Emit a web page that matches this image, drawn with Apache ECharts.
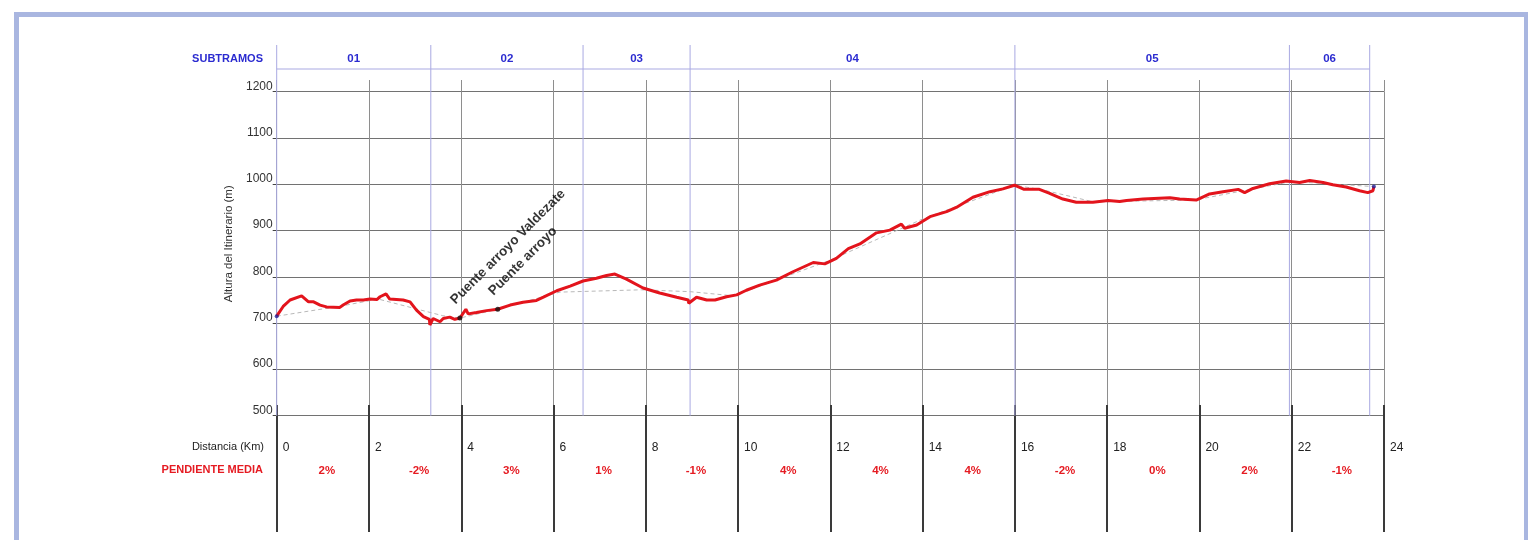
<!DOCTYPE html>
<html>
<head>
<meta charset="utf-8">
<script src="https://cdn.jsdelivr.net/npm/echarts@6/dist/echarts.min.js"></script>
<style>
  html, body { margin: 0; padding: 0; background: #ffffff; }
  #chart { width: 1528px; height: 540px; }
</style>
</head>
<body>
<div id="chart"></div>
<script>
// Longitudinal profile of the route: distance (km) vs. altitude (m)
const FONT = '"Liberation Sans", Arial, Helvetica, sans-serif';

const profileKm = [
  0, 0.14, 0.29, 0.54, 0.69, 0.8, 0.94, 1.08, 1.37, 1.44, 1.59, 1.73, 1.88, 2.02, 2.17, 2.24, 2.37, 2.45,
  2.74, 2.89, 3.03, 3.18, 3.31, 3.32, 3.39, 3.54, 3.61, 3.75, 3.86, 3.97, 4.1, 4.15, 4.33, 4.55, 4.79,
  5.06, 5.34, 5.63, 5.78, 6.07, 6.36, 6.64, 6.93, 7.15, 7.33, 7.58, 7.94, 8.3, 8.67, 8.92, 8.93, 9.1,
  9.32, 9.5, 9.75, 9.97, 10.18, 10.47, 10.83, 11.19, 11.63, 11.88, 12.13, 12.39, 12.64, 13.0, 13.29,
  13.54, 13.61, 13.87, 14.16, 14.52, 14.73, 15.09, 15.46, 15.74, 15.99, 16.2, 16.53, 16.74, 17.04,
  17.33, 17.69, 18.02, 18.27, 18.42, 18.78, 19.36, 19.57, 19.93, 20.22, 20.51, 20.84, 20.98, 21.16,
  21.52, 21.88, 22.17, 22.39, 22.68, 22.89, 23.18, 23.47, 23.65, 23.76, 23.78
];
const profileElev = [
  715, 736, 750, 759, 746, 746, 739, 735, 734, 739, 748, 750, 750, 752, 751, 757, 763, 752,
  750, 746, 728, 714, 708, 696, 710, 703, 710, 713, 708, 711, 730, 720, 723, 727, 730,
  739, 745, 749, 756, 770, 780, 791, 797, 803, 806, 795, 776, 765, 756, 750, 743, 756,
  750, 750, 757, 761, 771, 782, 793, 811, 831, 828, 840, 861, 871, 895, 901,
  914, 905, 912, 930, 941, 950, 972, 984, 990, 998, 989, 989, 981, 968,
  961, 961, 965, 963, 965, 968, 971, 968, 966, 979, 984, 989, 982, 991,
  1001, 1007, 1004, 1008, 1004, 999, 994, 986, 982, 986, 995
];

// Smoothed grade line
const gradeKm   = [0, 1.4, 2.2, 3.6, 3.97, 4.79, 6.14, 7.9, 8.96, 9.9, 12.0, 14.0, 15.99, 16.6, 17.7, 19.9, 22.0, 23.78];
const gradeElev = [715, 737, 752, 716, 711, 730, 767, 772, 768, 759, 836, 925, 998, 988, 962, 966, 1006, 995];

const bridgeNames = ['Puente arroyo Valdezate', 'Puente arroyo'];
const bridgeKm    = [3.97, 4.79];
const bridgeElev  = [711, 730];

const subtramoNames  = ['01', '02', '03', '04', '05', '06'];
const subtramoBounds = [0, 3.34, 6.64, 8.96, 16, 21.95, 23.69];

const slopeLabels = ['2%', '-2%', '3%', '1%', '-1%', '4%', '4%', '4%', '-2%', '0%', '2%', '-1%'];

const distMin = 0, distMax = 24, distStep = 2;
const elevMin = 500, elevMax = 1200, elevStep = 100;

const zip = (a, b) => a.map((v, i) => [v, b[i]]);

const PLOT_LEFT = 276.7, PLOT_WIDTH = 1107.3, PLOT_TOP = 91.7, PLOT_HEIGHT = 324;
const BLUE = '#2b2bd0', RED = '#e51b22', LAV = '#a9a9e2';

const hiddenY = (grid) => ({ type: 'value', gridIndex: grid, min: 0, max: 1, show: false });
const distAxis = (grid, split, extra) => Object.assign({
  type: 'value', gridIndex: grid, min: distMin, max: distMax, interval: distStep,
  axisLine: { show: false }, axisTick: { show: false }, axisLabel: { show: false },
  splitLine: { show: true, lineStyle: split }
}, extra || {});

const chart = echarts.init(document.getElementById('chart'), null, { renderer: 'canvas' });

chart.setOption({
  animation: false,
  backgroundColor: '#ffffff',
  grid: [
    { left: PLOT_LEFT, top: PLOT_TOP, width: PLOT_WIDTH, height: PLOT_HEIGHT, containLabel: false, outerBoundsMode: 'none' },
    { left: PLOT_LEFT, top: 80, width: PLOT_WIDTH, height: 11.7, containLabel: false, outerBoundsMode: 'none' },
    { left: PLOT_LEFT, top: 405, width: PLOT_WIDTH, height: 127, containLabel: false, outerBoundsMode: 'none' },
    { left: PLOT_LEFT, top: 405, width: PLOT_WIDTH, height: 56, containLabel: false, outerBoundsMode: 'none' }
  ],
  xAxis: [
    distAxis(0, { color: '#8e8e8e', width: 1 }, {
      axisLabel: {
        show: true, color: '#222', fontSize: 12, fontFamily: FONT, align: 'left',
        margin: 24, padding: [0, 0, 0, 6], lineHeight: 15
      }
    }),
    distAxis(1, { color: '#8e8e8e', width: 1 }),
    distAxis(2, { color: '#3a3a3a', width: 2 }),
    {
      type: 'category', gridIndex: 3, data: slopeLabels, boundaryGap: true, position: 'bottom',
      axisLine: { show: false }, axisTick: { show: false }, splitLine: { show: false },
      axisLabel: {
        interval: 0, color: RED, fontSize: 11.5, fontWeight: 'bold', fontFamily: FONT,
        margin: 2, padding: [0, 0, 0, 8], lineHeight: 15
      }
    }
  ],
  yAxis: [
    {
      type: 'value', gridIndex: 0, min: elevMin, max: elevMax, interval: elevStep,
      axisLine: { show: false },
      axisTick: { show: true, length: 4, lineStyle: { color: '#444', width: 1 } },
      splitLine: { show: true, lineStyle: { color: '#727272', width: 1 } },
      axisLabel: {
        color: '#333', fontSize: 12, fontFamily: FONT, margin: 4,
        verticalAlign: 'bottom', lineHeight: 11,
        formatter: (v) => String(v)
      },
      name: 'Altura del Itinerario (m)', nameLocation: 'middle', nameGap: 32, nameRotate: 90,
      nameTextStyle: { color: '#333', fontSize: 11.5, fontFamily: FONT, padding: [0, 0, 0, 20] }
    },
    hiddenY(1), hiddenY(2), hiddenY(3)
  ],
  graphic: [
    { type: 'rect', silent: true, shape: { x: 16.5, y: 14.5, width: 1510, height: 700 },
      style: { fill: 'none', stroke: '#a9b6e0', lineWidth: 5 }, z: 100 },
    { type: 'text', x: 263, y: 59, style: { text: 'SUBTRAMOS', fill: BLUE, fontSize: 11, fontWeight: 'bold',
      fontFamily: FONT, textAlign: 'right', textVerticalAlign: 'middle' } },
    { type: 'text', x: 264, y: 446.5, style: { text: 'Distancia (Km)', fill: '#222', fontSize: 11,
      fontFamily: FONT, textAlign: 'right', textVerticalAlign: 'middle' } },
    { type: 'text', x: 263, y: 469.5, style: { text: 'PENDIENTE MEDIA', fill: RED, fontSize: 11, fontWeight: 'bold',
      fontFamily: FONT, textAlign: 'right', textVerticalAlign: 'middle' } }
  ],
  series: [
    {
      // sub-section dividers, header rule and names
      type: 'custom', xAxisIndex: 0, yAxisIndex: 0, silent: true, z: 2,
      data: subtramoNames.map((n, i) => [subtramoBounds[i], subtramoBounds[i + 1]]),
      encode: { x: [0, 1] },
      renderItem: function (params, api) {
        const cs = params.coordSys;
        const x0 = api.coord([api.value(0), elevMax])[0];
        const x1 = api.coord([api.value(1), elevMax])[0];
        const yTop = cs.y - 46.7, yBot = cs.y + cs.height, yRule = cs.y - 22.7, yText = cs.y - 32.7;
        const lineStyle = { stroke: LAV, lineWidth: 1 };
        const children = [
          { type: 'line', shape: { x1: x0, y1: yTop, x2: x0, y2: yBot }, style: lineStyle },
          { type: 'line', shape: { x1: x0, y1: yRule, x2: x1, y2: yRule }, style: lineStyle },
          { type: 'text', x: (x0 + x1) / 2, y: yText, style: {
              text: subtramoNames[params.dataIndex], fill: BLUE, fontSize: 11.5, fontWeight: 'bold',
              fontFamily: FONT, textAlign: 'center', textVerticalAlign: 'middle' } }
        ];
        if (params.dataIndex === subtramoNames.length - 1) {
          children.push({ type: 'line', shape: { x1: x1, y1: yTop, x2: x1, y2: yBot }, style: lineStyle });
        }
        return { type: 'group', children: children };
      }
    },
    {
      type: 'line', xAxisIndex: 0, yAxisIndex: 0, data: zip(gradeKm, gradeElev),
      symbol: 'none', silent: true, z: 3,
      lineStyle: { color: '#b8b8b8', width: 1, type: [4, 3] }
    },
    {
      type: 'line', xAxisIndex: 0, yAxisIndex: 0, data: zip(profileKm, profileElev),
      symbol: 'none', silent: true, z: 5,
      lineStyle: { color: '#e3141c', width: 3 }
    },
    {
      type: 'scatter', xAxisIndex: 0, yAxisIndex: 0, silent: true, z: 6,
      data: [
        [profileKm[0], profileElev[0]],
        [profileKm[profileKm.length - 1], profileElev[profileElev.length - 1]]
      ],
      symbolSize: 4, itemStyle: { color: '#22229a' }
    },
    {
      type: 'scatter', xAxisIndex: 0, yAxisIndex: 0, silent: true, z: 7,
      data: zip(bridgeKm, bridgeElev),
      symbolSize: 5, itemStyle: { color: '#111' },
      label: {
        show: true, rotate: 45, position: [0.5, -8.5], align: 'left', verticalAlign: 'bottom',
        formatter: (p) => bridgeNames[p.dataIndex],
        color: '#000', fontSize: 13.5, fontWeight: 'bold', lineHeight: 14,
        fontFamily: FONT
      }
    }
  ]
});
</script>
</body>
</html>
